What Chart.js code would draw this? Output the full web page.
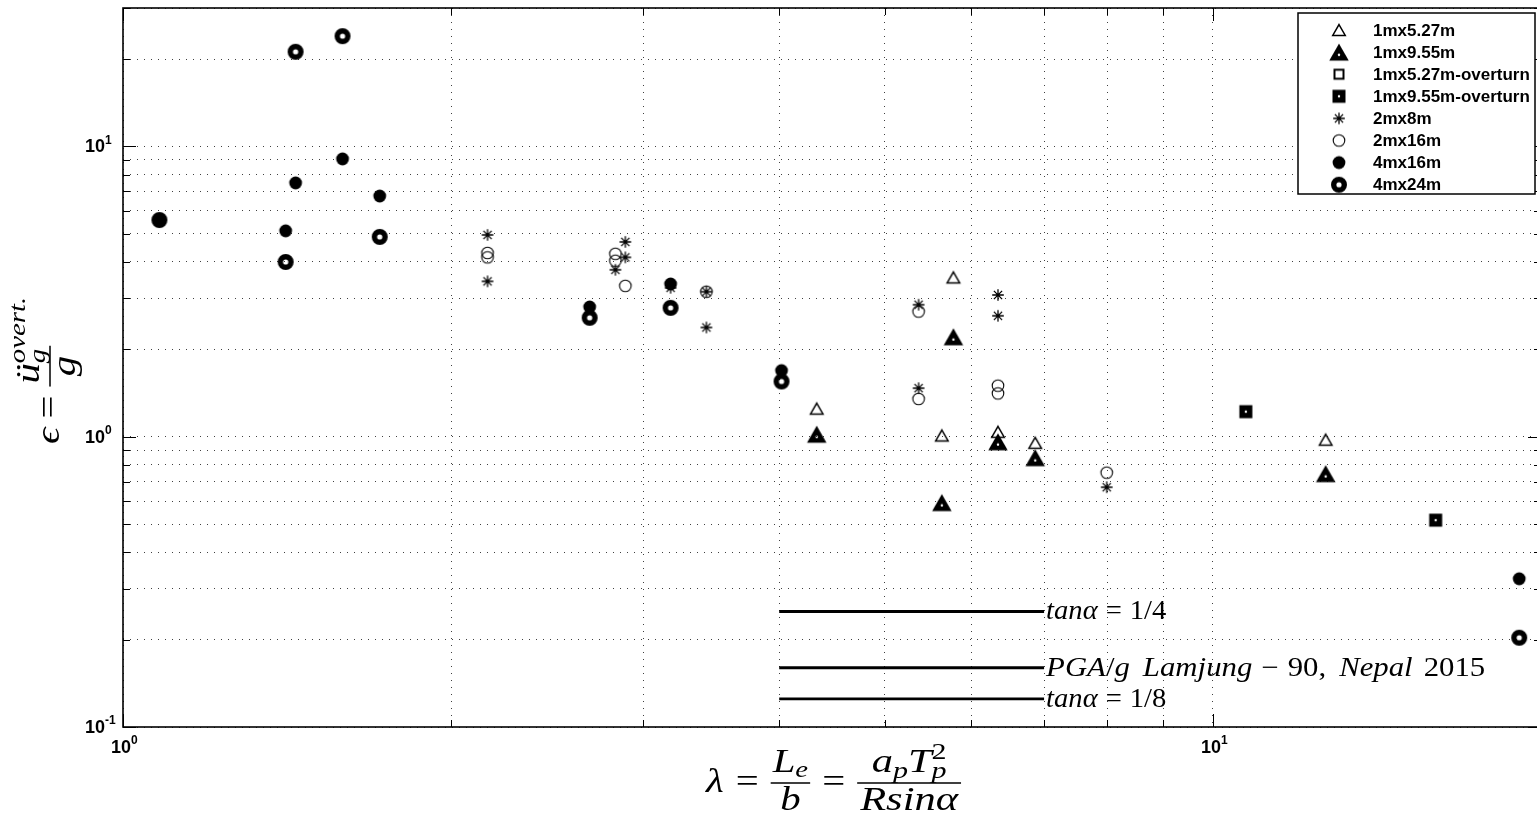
<!DOCTYPE html>
<html>
<head>
<meta charset="utf-8">
<script src="https://cdn.jsdelivr.net/npm/chart.js"></script>
<style>
  html, body { margin: 0; padding: 0; background: #fff; overflow: hidden; }
  canvas { display: block; }
</style>
</head>
<body>
<canvas id="myChart" width="1542" height="823"></canvas>
<script>
// lambda (x) and epsilon (y) per test series
const lam1m527 = [4.33, 5.78, 5.64, 6.35, 6.87, 12.69];
const eps1m527 = [1.25, 3.54, 1.01, 1.04, 0.953, 0.977];
const lam1m955 = [4.33, 5.78, 5.64, 6.35, 6.87, 12.69];
const eps1m955 = [1.02, 2.21, 0.593, 0.961, 0.847, 0.746];
const lam1m527o = [];
const eps1m527o = [];
const lam1m955o = [10.72, 16.01];
const eps1m955o = [1.22, 0.516];
const lam2m8 = [2.16, 2.16, 2.89, 2.89, 2.83, 3.18, 3.43, 3.43, 5.37, 5.37, 6.35, 6.35, 7.99];
const eps2m8 = [4.96, 3.43, 4.69, 4.15, 3.76, 3.26, 3.16, 2.38, 2.85, 1.47, 3.08, 2.61, 0.670];
const lam2m16 = [2.16, 2.16, 2.83, 2.83, 2.89, 3.43, 5.37, 5.37, 6.35, 6.35, 7.99];
const eps2m16 = [4.30, 4.15, 4.27, 4.04, 3.31, 3.16, 2.70, 1.35, 1.50, 1.41, 0.752];
const lam4m16 = [1.08, 1.41, 1.44, 1.59, 1.72, 2.68, 3.18, 4.02, 19.1];
const eps4m16 = [5.58, 5.12, 7.49, 9.06, 6.75, 2.80, 3.36, 1.69, 0.324];
const lam4m24 = [1.08, 1.44, 1.59, 1.41, 1.72, 2.68, 3.18, 4.02, 19.1];
const eps4m24 = [5.58, 21.2, 24.0, 4.00, 4.88, 2.57, 2.78, 1.55, 0.203];

const seriesNames = ['1mx5.27m', '1mx9.55m', '1mx5.27m-overturn', '1mx9.55m-overturn',
                     '2mx8m', '2mx16m', '4mx16m', '4mx24m'];

// horizontal reference levels drawn between two lambda values
const refLevels = [0.25, 0.16, 0.125];
const refLambda = [4, 7];

// decade tick labels
const xDecades = [1, 10];
const yDecades = [0.1, 1, 10];

// grid values: every integer step inside each decade
function logGrid(min, max) {
  const out = [];
  for (let e = Math.floor(Math.log10(min)); e <= Math.ceil(Math.log10(max)); e++) {
    for (let m = 1; m <= 9; m++) {
      const v = +(m * Math.pow(10, e)).toPrecision(6);
      if (v >= min && v <= max) out.push(v);
    }
  }
  return out;
}
const xGrid = logGrid(1, 20);
const yGrid = logGrid(0.1, 30);

// marker images (matlab-like symbols)
function marker(size, draw) {
  const c = document.createElement('canvas');
  c.width = c.height = size;
  const g = c.getContext('2d');
  g.translate(size / 2, size / 2);
  g.strokeStyle = '#000';
  g.fillStyle = '#000';
  draw(g);
  return c;
}
function triPath(g, s) {
  const h = s * 0.866;
  g.beginPath();
  g.moveTo(0, -h / 2);
  g.lineTo(s / 2, h / 2);
  g.lineTo(-s / 2, h / 2);
  g.closePath();
  return h;
}
function punch(g, x, y, r) {
  g.save();
  g.globalCompositeOperation = 'destination-out';
  g.beginPath();
  g.arc(x, y, r, 0, Math.PI * 2);
  g.fill();
  g.restore();
}
const mkTriOpen = marker(18, g => { triPath(g, 12.5); g.lineWidth = 1.5; g.stroke(); });
const mkTriFill = marker(24, g => { const h = triPath(g, 19.5); g.fill(); punch(g, 0, h / 6, 1.2); });
const mkSqOpen = marker(16, g => { g.lineWidth = 2; g.strokeRect(-4.5, -4.5, 9, 9); });
const mkSqFill = marker(18, g => { g.fillRect(-6.5, -6.5, 13, 13); punch(g, 0, 0, 1.2); });
const mkStar = marker(16, g => {
  g.lineWidth = 1.3;
  g.beginPath();
  for (let k = 0; k < 4; k++) {
    const a = k * Math.PI / 4;
    g.moveTo(-5.8 * Math.cos(a), -5.8 * Math.sin(a));
    g.lineTo(5.8 * Math.cos(a), 5.8 * Math.sin(a));
  }
  g.stroke();
});
const mkCircOpen = marker(16, g => { g.lineWidth = 1.1; g.beginPath(); g.arc(0, 0, 5.8, 0, Math.PI * 2); g.stroke(); });
const mkCircFill = marker(16, g => { g.beginPath(); g.arc(0, 0, 6.4, 0, Math.PI * 2); g.fill(); });
const mkRing = marker(20, g => { g.lineWidth = 5.4; g.beginPath(); g.arc(0, 0, 5.3, 0, Math.PI * 2); g.stroke(); });

const markers = [mkTriOpen, mkTriFill, mkSqOpen, mkSqFill, mkStar, mkCircOpen, mkCircFill, mkRing];
const seriesX = [lam1m527, lam1m955, lam1m527o, lam1m955o, lam2m8, lam2m16, lam4m16, lam4m24];
const seriesY = [eps1m527, eps1m955, eps1m527o, eps1m955o, eps2m8, eps2m16, eps4m16, eps4m24];

const zip = (xs, ys) => xs.map((x, i) => ({ x: x, y: ys[i] }));

const datasets = seriesNames.map((name, i) => ({
  label: name,
  data: zip(seriesX[i], seriesY[i]),
  pointStyle: markers[i],
  pointRadius: 6,
  order: 20 - i
}));
refLevels.forEach((lv, i) => {
  datasets.push({
    label: 'ref' + i,
    data: refLambda.map(x => ({ x: x, y: lv })),
    showLine: true,
    borderColor: '#000',
    borderWidth: 2.8,
    pointRadius: 0,
    order: 30
  });
});

const serif = '"Liberation Serif", "DejaVu Serif", serif';
const I = px => 'italic ' + px + 'px ' + serif;
const R = px => px + 'px ' + serif;

// text runs: number = gap, else [text, font, dy, noAdvance]; sx stretches glyphs horizontally
function runWidth(ctx, parts, sx) {
  let w = 0;
  for (const p of parts) {
    if (typeof p === 'number') { w += p; continue; }
    ctx.font = p[1];
    if (!p[3]) w += ctx.measureText(p[0]).width * sx;
  }
  return w;
}
function drawRun(ctx, x, y, parts, sx) {
  for (const p of parts) {
    if (typeof p === 'number') { x += p; continue; }
    ctx.font = p[1];
    ctx.save();
    ctx.translate(x, y + (p[2] || 0));
    ctx.scale(sx, 1);
    ctx.fillText(p[0], 0, 0);
    ctx.restore();
    if (!p[3]) x += ctx.measureText(p[0]).width * sx;
  }
  return x;
}
function drawFrac(ctx, x, axis, num, den, numBase, denBase, pad, sx) {
  const wn = runWidth(ctx, num, sx), wd = runWidth(ctx, den, sx);
  const w = Math.max(wn, wd) + pad * 2;
  drawRun(ctx, x + (w - wn) / 2, axis - numBase, num, sx);
  drawRun(ctx, x + (w - wd) / 2, axis + denBase, den, sx);
  ctx.fillRect(x, axis - 0.75, w, 1.5);
  return x + w;
}

const refLabels = [
  [['tanα', I(27)], 8, ['=', R(27)], 8, ['1/4', R(27)]],
  [['PGA', I(27)], ['/', R(27)], ['g', I(27)], 13, ['Lamjung', I(27)], 9, ['−', R(27)], 9, ['90,', R(27)], 13, ['Nepal', I(27)], 11, ['2015', R(27)]],
  [['tanα', I(27)], 8, ['=', R(27)], 8, ['1/8', R(27)]]
];
const refStretch = [1.06, 1.14, 1.06];

const M = 34, S = 24;
const decorPlugin = {
  id: 'decor',
  afterDraw(chart) {
    const ctx = chart.ctx;
    const a = chart.chartArea;
    const xs = chart.scales.x, ys = chart.scales.y;
    ctx.save();
    ctx.fillStyle = '#000';
    ctx.strokeStyle = '#000';

    // box and inward ticks
    ctx.lineWidth = 1.6;
    ctx.strokeRect(a.left, a.top, a.right - a.left, a.bottom - a.top);
    ctx.lineWidth = 1;
    ctx.beginPath();
    xGrid.forEach(v => {
      const p = Math.round(xs.getPixelForValue(v)) + 0.5;
      const len = xDecades.includes(v) ? 13 : 7;
      ctx.moveTo(p, a.bottom); ctx.lineTo(p, a.bottom - len);
      ctx.moveTo(p, a.top); ctx.lineTo(p, a.top + len);
    });
    yGrid.forEach(v => {
      const p = Math.round(ys.getPixelForValue(v)) + 0.5;
      const len = yDecades.includes(v) ? 13 : 7;
      ctx.moveTo(a.left, p); ctx.lineTo(a.left + len, p);
      ctx.moveTo(a.right, p); ctx.lineTo(a.right - len, p);
    });
    ctx.stroke();

    // decade tick labels
    const tf = 'bold 18px "Liberation Sans", Arial, sans-serif';
    const sf = 'bold 12px "Liberation Sans", Arial, sans-serif';
    ctx.textBaseline = 'middle';
    ctx.textAlign = 'left';
    yDecades.forEach(v => {
      const p = ys.getPixelForValue(v);
      ctx.font = tf; ctx.fillText('10', 85, p + 1);
      const w = ctx.measureText('10').width;
      ctx.font = sf; ctx.fillText(String(Math.round(Math.log10(v))), 85 + w, p - 6);
    });
    xDecades.forEach(v => {
      const p = xs.getPixelForValue(v);
      ctx.font = tf; ctx.fillText('10', p - 12, 748);
      const w = ctx.measureText('10').width;
      ctx.font = sf; ctx.fillText(String(Math.round(Math.log10(v))), p - 12 + w, 741);
    });

    // reference line labels
    ctx.textBaseline = 'alphabetic';
    refLevels.forEach((lv, i) => {
      const px = xs.getPixelForValue(refLambda[1]) + 2;
      const py = ys.getPixelForValue(lv);
      drawRun(ctx, px, py + 8, refLabels[i], refStretch[i]);
    });

    // x axis title
    const sx = 1.2;
    const ax = 783;
    let x = drawRun(ctx, 706, ax + 8.5, [['λ', I(M)], 12, ['=', R(M)], 12], sx);
    x = drawFrac(ctx, x, ax, [['L', I(M)], ['e', I(S), 5]], [['b', I(M)]], 11, 27, 2, sx);
    x = drawRun(ctx, x, ax + 8.5, [12, ['=', R(M)], 12], sx);
    drawFrac(ctx, x, ax, [['a', I(M)], ['p', I(S), 6], ['T', I(M)], ['2', R(S), -13, true], ['p', I(S), 6]],
             [['Rsinα', I(M)]], 11, 27, 3, 1.25);

    // y axis title (rotated)
    ctx.save();
    ctx.translate(50, 444);
    ctx.rotate(-Math.PI / 2);
    const u = drawRun(ctx, 0, 8.5, [['ϵ', I(M)], 9, ['=', R(M)], 9], sx);
    drawFrac(ctx, u, 0, [['ü', I(M)], ['overt.', I(S), -14, true], ['g', I(S), 6]],
             [['g', I(M)]], 11, 25, 3, sx);
    ctx.restore();

    // legend
    const lx = 1298, ly = 13, lw = 237, lh = 181;
    ctx.fillStyle = '#fff';
    ctx.fillRect(lx, ly, lw, lh);
    ctx.lineWidth = 1.5;
    ctx.strokeRect(lx, ly, lw, lh);
    ctx.fillStyle = '#000';
    ctx.font = 'bold 17px "Liberation Sans", Arial, sans-serif';
    ctx.textBaseline = 'middle';
    seriesNames.forEach((name, i) => {
      const cy = 30 + i * 22.1;
      const m = markers[i];
      ctx.drawImage(m, 1339 - m.width / 2, cy - m.height / 2);
      ctx.fillText(name, 1373, cy + 1);
    });
    ctx.restore();
  }
};

const gridStyle = { color: 'rgba(0,0,0,0.75)', lineWidth: 1, drawTicks: false };

new Chart(document.getElementById('myChart'), {
  type: 'scatter',
  data: { datasets: datasets },
  options: {
    responsive: false,
    animation: false,
    events: [],
    layout: { autoPadding: false, padding: { left: 0, top: 8, right: 1, bottom: 0 } },
    plugins: { legend: { display: false }, tooltip: { enabled: false } },
    scales: {
      x: {
        type: 'logarithmic', min: 1, max: 20,
        afterBuildTicks: s => { s.ticks = xGrid.map(v => ({ value: v })); },
        afterFit: s => { s.height = 96; },
        ticks: { display: false },
        grid: gridStyle,
        border: { display: false, dash: [1, 6] }
      },
      y: {
        type: 'logarithmic', min: 0.1, max: 30,
        afterBuildTicks: s => { s.ticks = yGrid.map(v => ({ value: v })); },
        afterFit: s => { s.width = 123; },
        ticks: { display: false },
        grid: gridStyle,
        border: { display: false, dash: [1, 6] }
      }
    }
  },
  plugins: [decorPlugin]
});
</script>
</body>
</html>
